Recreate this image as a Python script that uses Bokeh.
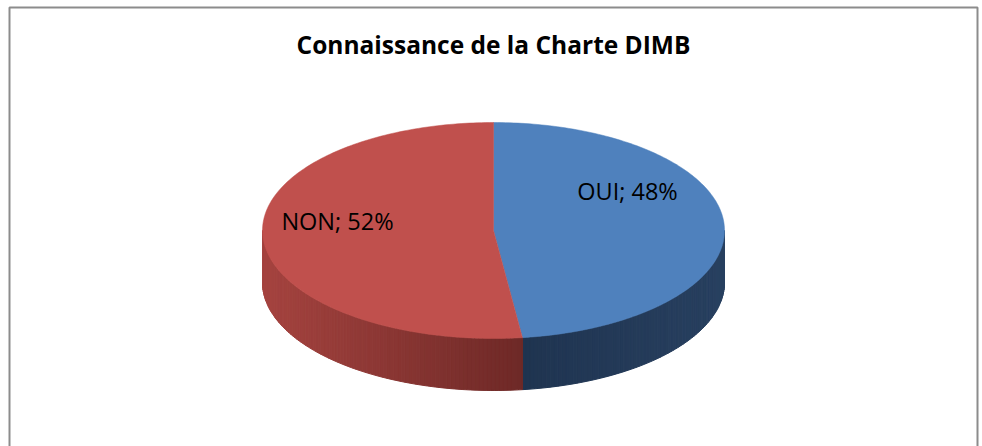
import math
from bokeh.plotting import figure
from bokeh.models import Range1d
from bokeh.core.properties import value
from bokeh.embed import file_html
from bokeh.resources import INLINE

# ---------------- data ----------------
title_text = "Connaissance de la Charte DIMB"
categories = ["OUI", "NON"]
percents = [48, 52]
top_colors = ["#4F81BD", "#C0504D"]
side_colors_start = ["#1F3450", "#A5433F"]
side_colors_end = ["#284060", "#6E2927"]

# ---------------- layout ----------------
W, H = 982, 446
CX, CY = 493.0, 230.0
RX, RY = 231.0, 108.0
DEPTH = 52.0
LABEL_X = [627, 337]
LABEL_Y = [190, 220]
TITLE_Y = 44
FONT = "Open Sans"

p = figure(width=W, height=H, output_backend="svg", toolbar_location=None,
           x_range=Range1d(0, W), y_range=Range1d(H, 0),
           min_border=0, min_border_left=0, min_border_right=0,
           min_border_top=0, min_border_bottom=0)
p.axis.visible = False
p.grid.visible = False
p.outline_line_color = None
p.background_fill_color = "white"
p.border_fill_color = "white"

p.multi_line(xs=[[9, 9, 977, 977]], ys=[[460, 7, 7, 460]],
             line_color="#8c8c8c", line_width=2)

def hex2rgb(h):
    h = h.lstrip("#")
    return tuple(int(h[i:i + 2], 16) for i in (0, 2, 4))

def mix(c1, c2, t):
    a, b = hex2rgb(c1), hex2rgb(c2)
    return "#%02x%02x%02x" % tuple(int(round(a[i] + (b[i] - a[i]) * t)) for i in range(3))

def pt(theta_deg):
    t = math.radians(theta_deg)
    return CX + RX * math.sin(t), CY - RY * math.cos(t)

total = float(sum(percents))
bounds = []
acc = 0.0
for v in percents:
    a0 = acc / total * 360.0
    acc += v
    a1 = acc / total * 360.0
    bounds.append((a0, a1))

sx, sy, sc = [], [], []
step = 1.0
for i, (a0, a1) in enumerate(bounds):
    lo, hi = max(a0, 90.0), min(a1, 270.0)
    if hi <= lo:
        continue
    n = max(1, int(math.ceil((hi - lo) / step)))
    xa, _ = pt(lo)
    xb, _ = pt(hi)
    for k in range(n):
        t0 = lo + (hi - lo) * k / n
        t1 = lo + (hi - lo) * (k + 1) / n
        x0, y0 = pt(t0)
        x1, y1 = pt(t1)
        xm = (x0 + x1) / 2
        frac = (xm - xb) / (xa - xb) if xa != xb else 0
        col = mix(side_colors_start[i], side_colors_end[i], frac)
        sx.append([x0, x1, x1, x0])
        sy.append([y0, y1, y1 + DEPTH, y0 + DEPTH])
        sc.append(col)
p.patches(xs=sx, ys=sy, fill_color=sc, line_color=sc, line_width=1)

tx, ty = [], []
for (a0, a1) in bounds:
    n = max(2, int((a1 - a0) / 1.0))
    xs = [CX]
    ys = [CY]
    for k in range(n + 1):
        x, y = pt(a0 + (a1 - a0) * k / n)
        xs.append(x)
        ys.append(y)
    tx.append(xs)
    ty.append(ys)
p.patches(xs=tx, ys=ty, fill_color=top_colors, line_color=top_colors, line_width=0.5)

labels = ["%s; %d%%" % (c, v) for c, v in zip(categories, percents)]
p.text(x=LABEL_X, y=LABEL_Y, text=labels, text_align="center",
       text_baseline="alphabetic", text_font=value(FONT),
       text_font_size="23.5px", text_color="black")

p.text(x=[493], y=[TITLE_Y], text=[title_text], text_align="center",
       text_baseline="alphabetic", text_font=value(FONT),
       text_font_style="bold", text_font_size="24.5px", text_color="black")

open("out.html", "w").write(file_html(p, INLINE))
